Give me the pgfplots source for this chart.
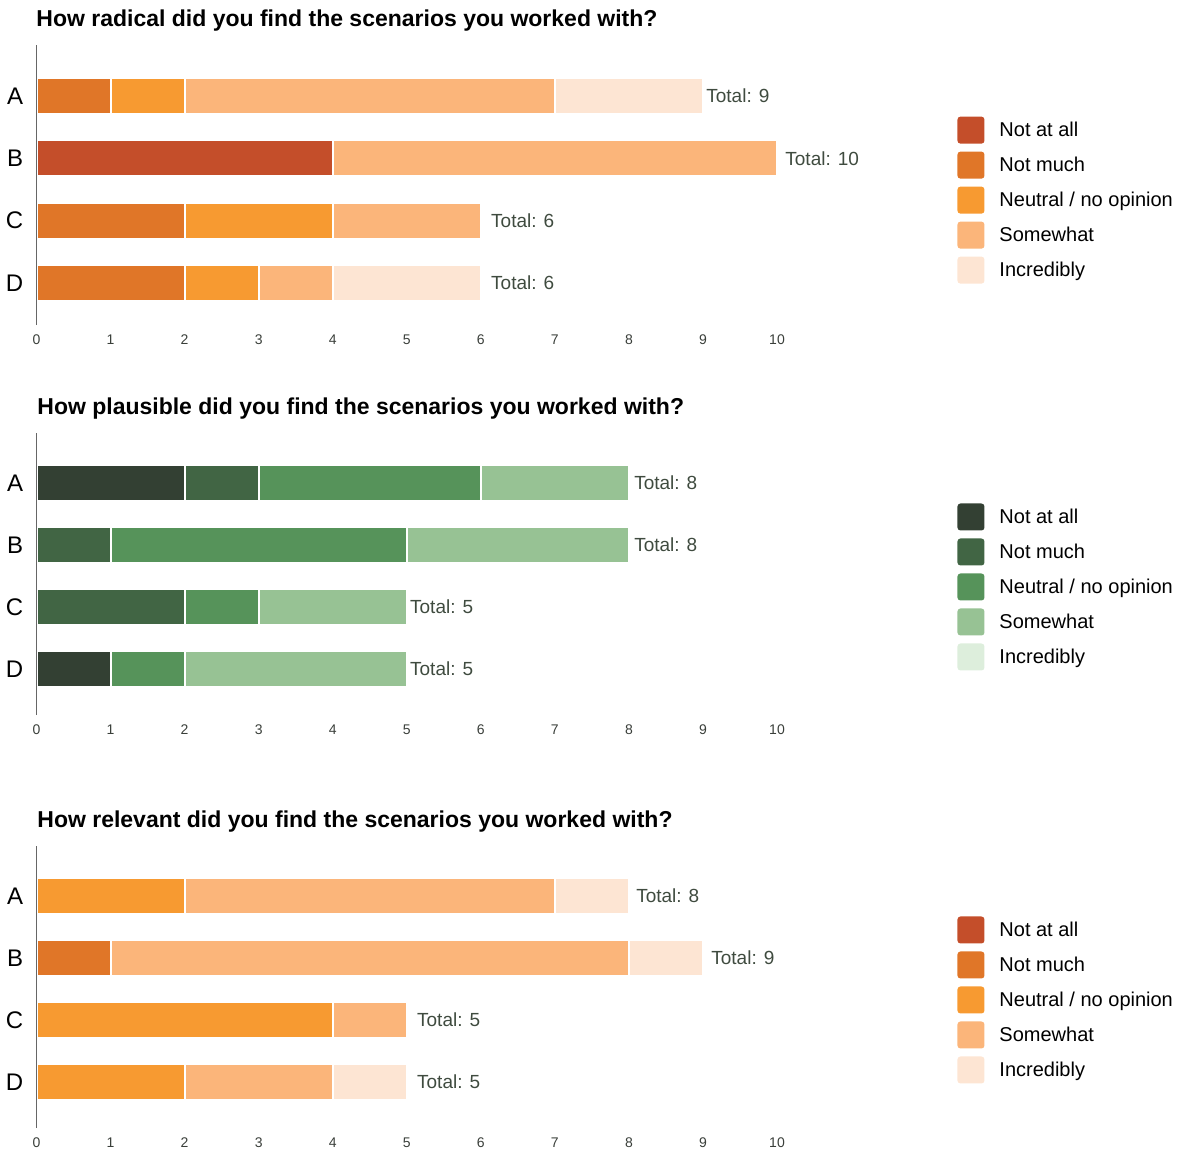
\documentclass[border=0pt]{standalone}
\usepackage{pgfplots}
\pgfplotsset{compat=1.18}
\usepackage{fontspec}
\setmainfont{Liberation Sans}
\definecolor{oA}{HTML}{C44E2A}
\definecolor{oB}{HTML}{E07628}
\definecolor{oC}{HTML}{F79A31}
\definecolor{oD}{HTML}{FBB57A}
\definecolor{oE}{HTML}{FDE5D3}
\definecolor{gA}{HTML}{334033}
\definecolor{gB}{HTML}{416544}
\definecolor{gC}{HTML}{56935A}
\definecolor{gD}{HTML}{97C294}
\definecolor{gE}{HTML}{DDEEDC}
\definecolor{totc}{HTML}{3F4B3F}
\definecolor{tickc}{HTML}{3A3F3A}
\pgfplotsset{
  panel/.style={
    scale only axis, width=370.25pt,
    xbar stacked, bar width=18pt,
    xmin=0, xmax=10,
    xtick={0,...,10}, ytick={0,1,2,3}, yticklabels={D,C,B,A},
    /pgf/number format/assume math mode=true,
    axis y line*=left, axis x line*=bottom,
    axis on top,
    x axis line style={draw=none},
    y axis line style={draw=gray!80!black, line width=0.6pt},
    major tick length=0pt,
    xticklabel style={font=\fontsize{7}{8}\selectfont, text=tickc, inner sep=0pt, yshift=-4.5pt},
    yticklabel style={font=\fontsize{12}{13}\selectfont, text=black, inner sep=0pt, xshift=-6.5pt},
    every axis plot/.append style={draw=white, line width=1pt},
    legend cell align=left,
    legend image code/.code={\fill[##1, draw=none, rounded corners=1.5pt] (0pt,-6.2pt) rectangle (13.5pt,7.3pt);},
    legend style={draw=none, fill=none, anchor=west, inner sep=0pt, outer sep=0pt,
      font=\fontsize{10}{12}\selectfont, row sep=4pt, column sep=7.5pt,
      nodes={inner sep=0pt}},
    clip=false,
  },
}
\newcommand{\tot}[3]{\node[anchor=west, inner sep=0pt, text=totc, font=\fontsize{9.5}{11}\selectfont, xshift=#3] at (axis cs:#1,#2) {Total: #1};}
\begin{document}
\begin{tikzpicture}
\useasboundingbox (0,0) rectangle (592pt,-574pt);
% titles
\node[anchor=base west, inner sep=0pt, font=\bfseries\fontsize{11.5}{13}\selectfont] at (18pt,-13.3pt) {How radical did you find the scenarios you worked with?};
\node[anchor=base west, inner sep=0pt, font=\bfseries\fontsize{11.5}{13}\selectfont] at (18.5pt,-207pt) {How plausible did you find the scenarios you worked with?};
\node[anchor=base west, inner sep=0pt, font=\bfseries\fontsize{11.5}{13}\selectfont] at (18.5pt,-413.5pt) {How relevant did you find the scenarios you worked with?};

% Panel 1: radical
\begin{axis}[panel, at={(18.25pt,-22.5pt)}, anchor=north west, height=140pt,
  ymin=-0.674, ymax=3.818,
  legend style={at={(axis description cs:1.2437,0.446)}}]
\addplot[fill=oA] coordinates {(0,3) (4,2) (0,1) (0,0)};
\addplot[fill=oB] coordinates {(1,3) (0,2) (2,1) (2,0)};
\addplot[fill=oC] coordinates {(1,3) (0,2) (2,1) (1,0)};
\addplot[fill=oD] coordinates {(5,3) (6,2) (2,1) (1,0)};
\addplot[fill=oE] coordinates {(2,3) (0,2) (0,1) (2,0)};
\legend{Not at all, Not much, Neutral / no opinion, Somewhat, Incredibly}
\tot{9}{3}{1.5pt}
\tot{10}{2}{4pt}
\tot{6}{1}{5pt}
\tot{6}{0}{5pt}
\end{axis}

% Panel 2: plausible
\begin{axis}[panel, at={(18.25pt,-216.5pt)}, anchor=north west, height=141pt,
  ymin=-0.742, ymax=3.806,
  legend style={at={(axis description cs:1.2437,0.454)}}]
\addplot[fill=gA] coordinates {(2,3) (0,2) (0,1) (1,0)};
\addplot[fill=gB] coordinates {(1,3) (1,2) (2,1) (0,0)};
\addplot[fill=gC] coordinates {(3,3) (4,2) (1,1) (1,0)};
\addplot[fill=gD] coordinates {(2,3) (3,2) (2,1) (3,0)};
\addplot[fill=gE] coordinates {(0,3) (0,2) (0,1) (0,0)};
\legend{Not at all, Not much, Neutral / no opinion, Somewhat, Incredibly}
\tot{8}{3}{2.5pt}
\tot{8}{2}{2.5pt}
\tot{5}{1}{1.5pt}
\tot{5}{0}{1.5pt}
\end{axis}

% Panel 3: relevant
\begin{axis}[panel, at={(18.25pt,-423pt)}, anchor=north west, height=141pt,
  ymin=-0.742, ymax=3.806,
  legend style={at={(axis description cs:1.2437,0.454)}}]
\addplot[fill=oA] coordinates {(0,3) (0,2) (0,1) (0,0)};
\addplot[fill=oB] coordinates {(0,3) (1,2) (0,1) (0,0)};
\addplot[fill=oC] coordinates {(2,3) (0,2) (4,1) (2,0)};
\addplot[fill=oD] coordinates {(5,3) (7,2) (1,1) (2,0)};
\addplot[fill=oE] coordinates {(1,3) (1,2) (0,1) (1,0)};
\legend{Not at all, Not much, Neutral / no opinion, Somewhat, Incredibly}
\tot{8}{3}{3.5pt}
\tot{9}{2}{4pt}
\tot{5}{1}{5pt}
\tot{5}{0}{5pt}
\end{axis}
\end{tikzpicture}
\end{document}
